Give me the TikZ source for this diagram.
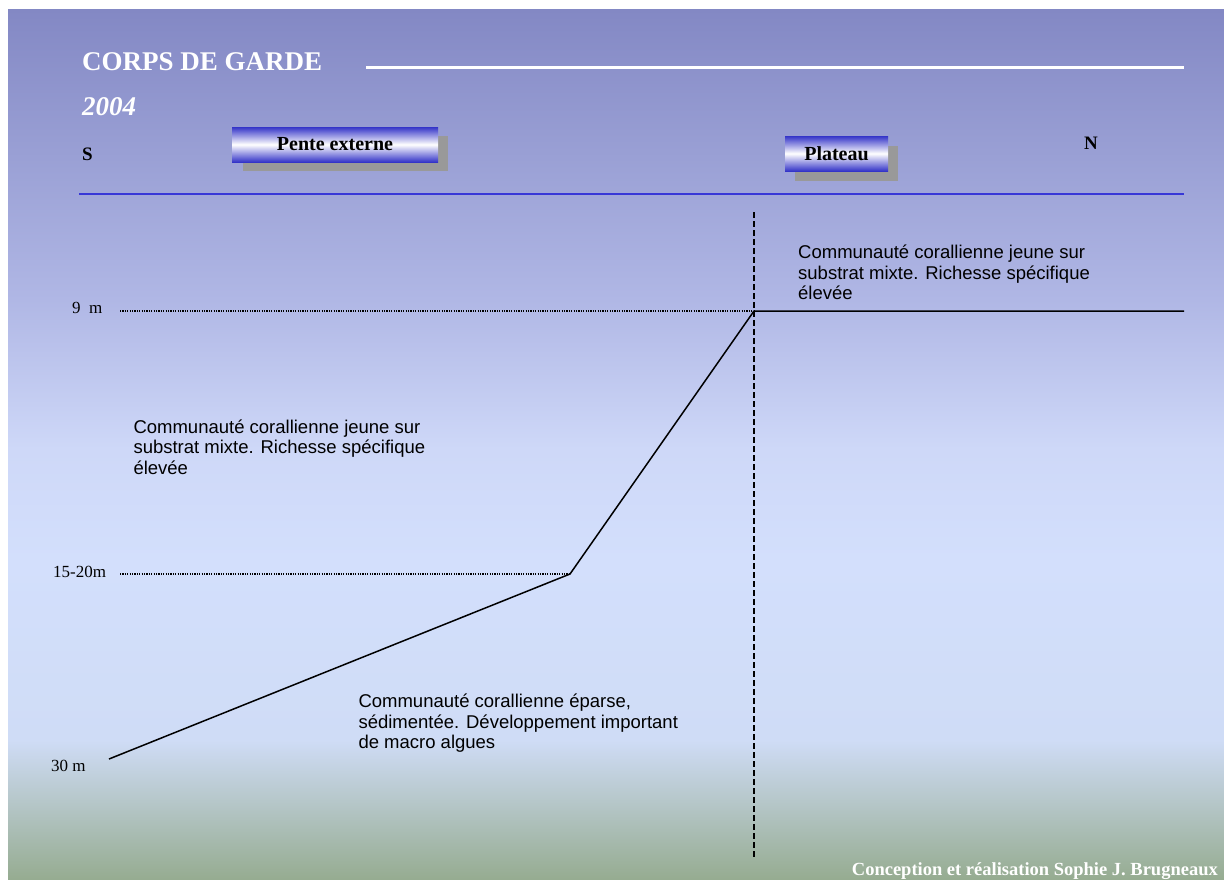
\documentclass[tikz,border=0pt]{standalone}
\usepackage{fontspec}
\setmainfont{Liberation Serif}
\newfontfamily\arialfont{Liberation Sans}
\usetikzlibrary{shadings}

\definecolor{bgtop}{RGB}{131,136,196}
\definecolor{bgupper}{RGB}{176,183,229}
\definecolor{bgmid}{RGB}{206,216,248}
\definecolor{bglight}{RGB}{211,223,252}
\definecolor{bglow}{RGB}{207,220,246}
\definecolor{bgbottom}{RGB}{150,172,145}
\definecolor{btnblue}{RGB}{52,52,200}
\definecolor{rulblue}{RGB}{55,55,215}
\definecolor{shadowgray}{RGB}{153,153,153}

% sky-to-sea background, bottom to top (25bp..75bp spans the filled area)
\pgfdeclareverticalshading{seabg}{100bp}{%
  color(0bp)=(bgbottom); color(25bp)=(bgbottom); color(33bp)=(bglow);
  color(43.3bp)=(bglight); color(49.7bp)=(bgmid); color(58.3bp)=(bgupper);
  color(75bp)=(bgtop); color(100bp)=(bgtop)}

\begin{document}
\begin{tikzpicture}[x=1pt,y=-1pt,
  heading/.style={text=white, inner sep=0, anchor=base west,
    font=\fontsize{27}{32}\selectfont\bfseries},
  compass/.style={inner sep=0, anchor=base west,
    font=\fontsize{19}{22}\selectfont\bfseries},
  depth/.style={inner sep=0, anchor=base west,
    font=\fontsize{17}{20}\selectfont},
  zone/.style={inner sep=0, anchor=base west,
    font=\arialfont\fontsize{18.5}{20.5}\selectfont},
  tabbox/.style={top color=btnblue, bottom color=btnblue, middle color=white,
    inner sep=0, font=\fontsize{20}{24}\selectfont\bfseries},
  profile/.style={line width=1.5pt, black},
  level/.style={line width=1.2pt, dash pattern=on 1.2pt off 1.2pt, black},
  axis/.style={line width=1.5pt, dash pattern=on 6pt off 3pt, black}]

\useasboundingbox (0,0) rectangle (1224,879);
\fill[white] (0,0) rectangle (1224,879);
\fill[shading=seabg] (8,9) rectangle (1224,879);

% header
\node[heading] (title) at (82,70) {CORPS DE GARDE};
\coordinate (tr1) at (366,67);
\coordinate (tr2) at (1184,67);
\draw[white, line width=3pt] (tr1) -- (tr2);
\node[heading, font=\fontsize{27}{32}\selectfont\bfseries\itshape] (year) at (82,115) {2004};
\node[compass] (south) at (82,160) {S};
\node[compass] (north) at (1084,149.7) {N};

% zone tabs with drop shadows
\fill[shadowgray] (243,136) rectangle (448,171);
\node[tabbox, minimum width=206, minimum height=35] (pente) at (335,144.5) {Pente externe};
\fill[shadowgray] (795,146) rectangle (898,181);
\node[tabbox, minimum width=103, minimum height=35] (plateau) at (836.5,153.5) {Plateau};

\coordinate (br1) at (79,193.5);
\coordinate (br2) at (1184,193.5);
\draw[rulblue, line width=2pt] (br1) -- (br2);

% depth marks
\node[depth] (d9lab) at (72,313) {9~~m};
\node[depth] (d15lab) at (53,577) {15-20m};
\node[depth] (d30lab) at (51,771) {30 m};

% reef profile
\coordinate (p30) at (109,759);
\coordinate (p15) at (570,574);
\coordinate (p9) at (754,311);
\coordinate (d9) at (120,311);
\coordinate (d15) at (120,574);
\coordinate (e9) at (1184,311);
\coordinate (vtop) at (754,212);
\coordinate (vbot) at (754,858);

\draw[level] (d9) -- (p9);
\draw[level] (d15) -- (p15);
\draw[profile] (p30) -- (p15) -- (p9) -- (e9);
\draw[axis] (vtop) -- (vbot);

% community descriptions
\node[zone] (plat) at (798,258.5) {\begin{tabular}[t]{@{}l@{}}Communauté corallienne jeune sur\\ substrat mixte. Richesse spécifique\\ élevée\end{tabular}};
\node[zone] (slope) at (133.3,433) {\begin{tabular}[t]{@{}l@{}}Communauté corallienne jeune sur\\ substrat mixte. Richesse spécifique\\ élevée\end{tabular}};
\node[zone] (deep) at (358.3,707.5) {\begin{tabular}[t]{@{}l@{}}Communauté corallienne éparse,\\ sédimentée. Développement important\\ de macro algues\end{tabular}};

% credit
\node[text=white, inner sep=0, anchor=base east,
  font=\fontsize{18.5}{21}\selectfont\bfseries] (credit) at (1218,875)
  {Conception et réalisation Sophie J. Brugneaux};
\end{tikzpicture}
\end{document}
